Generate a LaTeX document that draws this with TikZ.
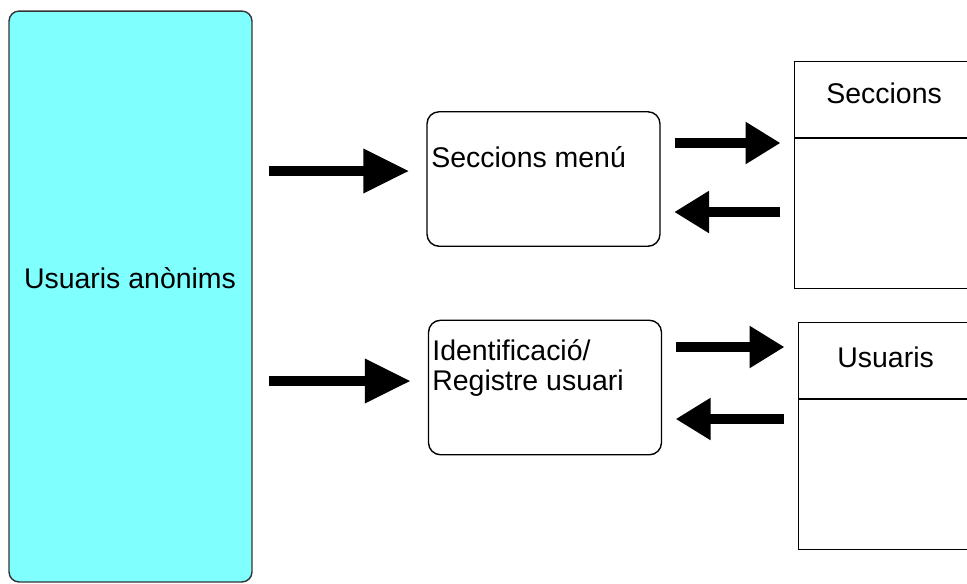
\documentclass[tikz,border=0pt]{standalone}
\usepackage{fontspec}
\setmainfont{Liberation Sans}
\usepackage{xcolor}
\usepackage{tikz}
\usetikzlibrary{arrows.meta}

\definecolor{anoncyan}{RGB}{128,255,255}

\begin{document}
\begin{tikzpicture}[x=0.02cm, y=-0.02cm,
    font=\fontsize{16.2}{17}\selectfont,
    lbl/.style={inner sep=0pt, anchor=base west},
    menubox/.style={draw, rounded corners=0.24cm, line width=0.8pt, minimum width=4.66cm, minimum height=2.69cm},
    tablebox/.style={draw, rectangle, line width=0.8pt, minimum width=4cm, minimum height=4.54cm, anchor=north west},
    bigarrow/.style={line width=0.2cm, -{Triangle[length=0.92cm, width=0.84cm]}, shorten <=0.32cm, shorten >=0.34cm},
    smallarrow/.style={line width=0.2cm, -{Triangle[length=0.7cm, width=0.8cm]}, shorten <=0.28cm, shorten >=0.27cm}]
            \useasboundingbox (0,0) rectangle (967,583);
            \clip (0,0) rectangle (967,583);

            \node[draw=black!80, fill=anoncyan, rounded corners=0.2cm, line width=0.8pt, minimum width=4.86cm, minimum height=11.42cm] (anon) at (130.5,296.5) {};
            \node[anchor=base] (anontxt) at (130,288) {Usuaris anònims};

            \node[menubox] (menu) at (543.5,179) {};
            \node[lbl] (menutxt) at (431,167) {Seccions menú};

            \node[menubox] (ident) at (545,387.5) {};
            \node[lbl, align=left] (identtxt) at (432,390) {Identificació/\\Registre usuari};

            \node[tablebox] (secc) at (794,61) {};
            \draw[line width=0.8pt] (secc.west |- 0,138) -- (secc.east |- 0,138);
            \node[lbl] (secctxt) at (826,103) {Seccions};

            \node[tablebox] (usr) at (798,322) {};
            \draw[line width=0.8pt] (usr.west |- 0,399) -- (usr.east |- 0,399);
            \node[lbl] (usrtxt) at (837,367) {Usuaris};

            \draw[bigarrow] (anon.east |- 0,171) -- (menu.west |- 0,171);
            \draw[bigarrow] (anon.east |- 0,381) -- (ident.west |- 0,381);

            \draw[smallarrow] (menu.east |- 0,143) -- (secc.west |- 0,143);
            \draw[smallarrow] (secc.west |- 0,212) -- (menu.east |- 0,212);
            \draw[smallarrow] (ident.east |- 0,347) -- (usr.west |- 0,347);
            \draw[smallarrow] (usr.west |- 0,419) -- (ident.east |- 0,419);
        \end{tikzpicture}
\end{document}
